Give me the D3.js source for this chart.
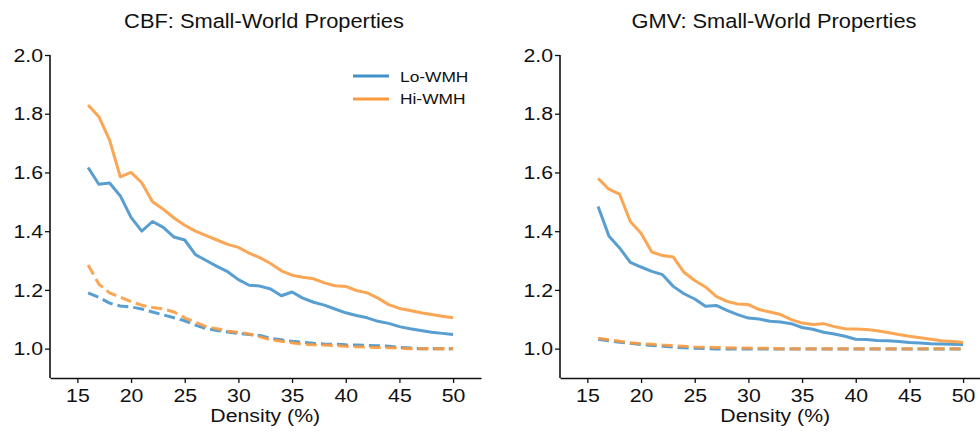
<!DOCTYPE html>
<html>
<head>
<meta charset="utf-8">
<script src="https://cdn.jsdelivr.net/npm/d3@7"></script>
<style>
  body { margin: 0; background: #fff; }
  svg { font-family: "Liberation Sans", Arial, Helvetica, sans-serif; }
  .axis path, .axis line { stroke: #111; }
  .axis text { fill: #111; font-size: 19px; }
</style>
</head>
<body>
<div id="chart"></div>
<script>
// density values (%)
var density = d3.range(16, 51);

// CBF panel
var cbfLoSolid = [1.617, 1.56, 1.564, 1.52, 1.447, 1.40, 1.433, 1.413, 1.38, 1.37,
  1.32, 1.30, 1.28, 1.262, 1.235, 1.216, 1.213, 1.203, 1.18, 1.193,
  1.172, 1.158, 1.148, 1.135, 1.122, 1.113, 1.105, 1.093, 1.086, 1.075,
  1.068, 1.062, 1.056, 1.052, 1.048];
var cbfHiSolid = [1.83, 1.79, 1.71, 1.585, 1.60, 1.565, 1.50, 1.475, 1.445, 1.42,
  1.40, 1.385, 1.37, 1.355, 1.345, 1.325, 1.31, 1.29, 1.265, 1.25,
  1.243, 1.238, 1.224, 1.214, 1.212, 1.198, 1.19, 1.172, 1.15, 1.137,
  1.13, 1.122, 1.116, 1.11, 1.105];
var cbfLoDash = [1.19, 1.175, 1.155, 1.145, 1.142, 1.135, 1.125, 1.115, 1.105, 1.095,
  1.08, 1.068, 1.062, 1.057, 1.052, 1.048, 1.045, 1.035, 1.03, 1.025,
  1.022, 1.018, 1.016, 1.015, 1.013, 1.012, 1.011, 1.01, 1.008, 1.004,
  1.002, 1.0, 1.0, 1.0, 1.0];
var cbfHiDash = [1.285, 1.22, 1.19, 1.175, 1.16, 1.148, 1.14, 1.135, 1.125, 1.105,
  1.09, 1.075, 1.068, 1.06, 1.055, 1.05, 1.04, 1.03, 1.025, 1.02,
  1.015, 1.013, 1.012, 1.01, 1.008, 1.006, 1.005, 1.004, 1.003, 1.002,
  1.0, 1.0, 1.0, 1.0, 1.0];

// GMV panel
var gmvLoSolid = [1.484, 1.384, 1.343, 1.294, 1.278, 1.263, 1.252, 1.212, 1.187, 1.169,
  1.144, 1.147, 1.13, 1.116, 1.104, 1.101, 1.093, 1.091, 1.085, 1.072,
  1.066, 1.056, 1.05, 1.042, 1.032, 1.031, 1.028, 1.027, 1.024, 1.021,
  1.019, 1.017, 1.016, 1.015, 1.014];
var gmvHiSolid = [1.58, 1.543, 1.526, 1.433, 1.393, 1.329, 1.317, 1.312, 1.26, 1.232,
  1.21, 1.178, 1.161, 1.152, 1.15, 1.133, 1.125, 1.116, 1.099, 1.087,
  1.082, 1.085, 1.075, 1.068, 1.067, 1.065, 1.061, 1.055, 1.048, 1.042,
  1.037, 1.032, 1.027, 1.024, 1.021];
var gmvLoDash = [1.032, 1.027, 1.022, 1.018, 1.014, 1.011, 1.008, 1.005, 1.003, 1.001,
  1.0, 0.999, 0.999, 0.999, 0.999, 0.999, 0.999, 0.999, 0.999, 0.999,
  0.999, 0.999, 0.999, 0.999, 0.999, 0.999, 0.999, 0.999, 0.999, 0.999,
  0.999, 0.999, 0.999, 0.999, 0.999];
var gmvHiDash = [1.035, 1.03, 1.025, 1.02, 1.017, 1.015, 1.012, 1.01, 1.008, 1.006,
  1.005, 1.004, 1.003, 1.002, 1.002, 1.001, 1.001, 1.0, 1.0, 1.0,
  1.0, 1.0, 1.0, 1.0, 1.0, 1.0, 1.0, 1.0, 1.0, 1.0,
  1.0, 1.0, 1.0, 1.0, 1.0];

var xTicks = [15, 20, 25, 30, 35, 40, 45, 50];
var yTicks = [1.0, 1.2, 1.4, 1.6, 1.8, 2.0];
var groups = ["Lo-WMH", "Hi-WMH"];
var colors = {"Lo-WMH": "#4191c9", "Hi-WMH": "#fb9a3c"};

// the original lettering is a bit wider than Liberation Sans
var sx = 1.12;

var svg = d3.select("#chart").append("svg")
  .attr("width", 980)
  .attr("height", 432);

function wideText(sel, x, y) {
  return sel.attr("x", x / sx).attr("y", y).attr("transform", `scale(${sx},1)`);
}

var panels = [
  {title: "CBF: Small-World Properties", left: 50, lo: cbfLoSolid, hi: cbfHiSolid, loD: cbfLoDash, hiD: cbfHiDash, legend: true},
  {title: "GMV: Small-World Properties", left: 560, lo: gmvLoSolid, hi: gmvHiSolid, loD: gmvLoDash, hiD: gmvHiDash, legend: false}
];

panels.forEach(function (p) {
  // x spine runs a bit past the data on both sides
  var x = d3.scaleLinear().domain([12.45, 52.6]).range([p.left, p.left + 431]);
  var y = d3.scaleLinear().domain([0.9, 2.0]).range([378, 55]);

  var g = svg.append("g");

  g.append("text")
    .call(wideText, p.left + 214, 28)
    .attr("text-anchor", "middle")
    .attr("font-size", "19.5px")
    .attr("fill", "#111")
    .text(p.title);

  g.append("g")
    .attr("class", "axis")
    .attr("transform", "translate(0,378)")
    .call(d3.axisBottom(x).tickValues(xTicks).tickSize(5).tickSizeOuter(0).tickPadding(6))
    .call(a => a.select(".domain").attr("stroke-width", 1.6))
    .call(a => a.selectAll(".tick line").attr("stroke-width", 1.3))
    .call(a => a.selectAll(".tick text").attr("transform", `scale(${sx},1)`));

  g.append("g")
    .attr("class", "axis")
    .attr("transform", `translate(${p.left},0)`)
    .call(d3.axisLeft(y).tickValues(yTicks).tickFormat(d3.format(".1f")).tickSize(5).tickSizeOuter(0).tickPadding(3))
    .call(a => a.select(".domain").attr("d", `M0,${y(2.0)}V378`).attr("stroke-width", 1.6))
    .call(a => a.selectAll(".tick line").attr("stroke-width", 1.3))
    .call(a => a.selectAll(".tick text").attr("x", -7 / sx).attr("transform", `scale(${sx},1)`));

  g.append("text")
    .call(wideText, x(32.5), 422)
    .attr("text-anchor", "middle")
    .attr("font-size", "19px")
    .attr("fill", "#111")
    .text("Density (%)");

  var line = d3.line()
    .x((d, i) => x(density[i]))
    .y(d => y(d));

  var series = [
    {v: p.loD, c: colors["Lo-WMH"], dash: "11,5"},
    {v: p.hiD, c: colors["Hi-WMH"], dash: "11,5"},
    {v: p.lo, c: colors["Lo-WMH"], dash: null},
    {v: p.hi, c: colors["Hi-WMH"], dash: null}
  ];

  g.selectAll(".series")
    .data(series)
    .enter()
    .append("path")
    .attr("class", "series")
    .attr("d", d => line(d.v))
    .attr("fill", "none")
    .attr("stroke", d => d.c)
    .attr("stroke-width", 3)
    .attr("stroke-opacity", 0.88)
    .attr("stroke-linejoin", "round")
    .attr("stroke-dasharray", d => d.dash);

  if (p.legend) {
    var leg = g.append("g").attr("transform", "translate(353,76)");
    groups.forEach(function (name, i) {
      leg.append("line")
        .attr("x1", 0).attr("x2", 36)
        .attr("y1", i * 23).attr("y2", i * 23)
        .attr("stroke", colors[name])
        .attr("stroke-width", 3);
      leg.append("text")
        .call(wideText, 47, i * 23 + 5.5)
        .attr("font-size", "15.5px")
        .attr("fill", "#111")
        .text(name);
    });
  }
});
</script>
</body>
</html>
